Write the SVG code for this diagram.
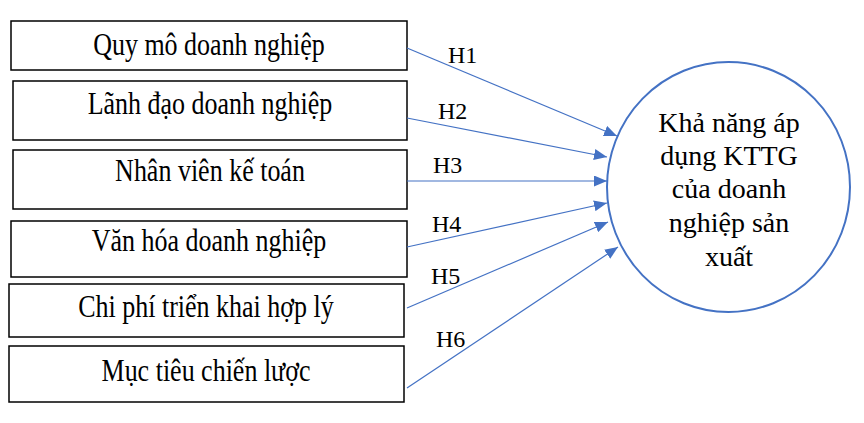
<svg xmlns="http://www.w3.org/2000/svg" width="864" height="423" viewBox="0 0 864 423">
<style>
.box{fill:#fff;stroke:#000;stroke-width:1.5}
.t{font-family:"Liberation Serif","Times New Roman",serif;font-size:26px;fill:#000;text-anchor:middle}
.ct{font-family:"Liberation Serif","Times New Roman",serif;font-size:28px;fill:#000;text-anchor:middle}
.h{font-family:"Liberation Serif","Times New Roman",serif;font-size:24px;fill:#000}
.c{fill:#fff;stroke:#4472C4;stroke-width:2}
.ln{stroke:#4472C4;stroke-width:1.2;fill:none;marker-end:url(#ah)}
</style>
<defs>
<marker id="ah" markerUnits="userSpaceOnUse" markerWidth="13" markerHeight="11" refX="13" refY="5.5" orient="auto">
<path d="M0,0 L13,5.5 L0,11 z" fill="#4472C4"/>
</marker>
</defs>
<rect width="864" height="423" fill="#fff"/>
<g id="n1"><rect class="box" x="11" y="21" width="396" height="49"/><text class="t" transform="translate(209,55) scale(1,1.18)">Quy mô doanh nghiệp</text></g>
<g id="n2"><rect class="box" x="13" y="81" width="394" height="59"/><text class="t" transform="translate(210,114) scale(1,1.18)">Lãnh đạo doanh nghiệp</text></g>
<g id="n3"><rect class="box" x="13" y="150" width="394" height="59"/><text class="t" transform="translate(210,181) scale(1,1.18)">Nhân viên kế toán</text></g>
<g id="n4"><rect class="box" x="11" y="221" width="396" height="56"/><text class="t" transform="translate(209,251) scale(1,1.18)">Văn hóa doanh nghiệp</text></g>
<g id="n5"><rect class="box" x="9" y="284" width="395" height="53"/><text class="t" transform="translate(206,317) scale(1,1.18)">Chi phí triển khai hợp lý</text></g>
<g id="n6"><rect class="box" x="9" y="346" width="395" height="56"/><text class="t" transform="translate(206,381) scale(1,1.18)">Mục tiêu chiến lược</text></g>
<g id="target"><ellipse class="c" cx="728.5" cy="187" rx="121.5" ry="125"/>
<text class="ct" x="729" y="132">Khả năng áp</text>
<text class="ct" x="729" y="165">dụng KTTG</text>
<text class="ct" x="729" y="198">của doanh</text>
<text class="ct" x="729" y="232">nghiệp sản</text>
<text class="ct" x="729" y="266">xuất</text>
</g>
<g id="connectors">
<line class="ln" x1="407" y1="48" x2="617" y2="136"/>
<line class="ln" x1="407" y1="118" x2="607" y2="157"/>
<line class="ln" x1="407" y1="181" x2="607" y2="181"/>
<line class="ln" x1="407" y1="247" x2="607" y2="203"/>
<line class="ln" x1="407" y1="308" x2="608" y2="222"/>
<line class="ln" x1="407" y1="388" x2="618" y2="247"/>
<text class="h" x="448" y="63">H1</text>
<text class="h" x="438" y="119">H2</text>
<text class="h" x="433" y="173">H3</text>
<text class="h" x="432" y="232">H4</text>
<text class="h" x="431" y="284">H5</text>
<text class="h" x="436" y="347">H6</text>
</g>
</svg>
